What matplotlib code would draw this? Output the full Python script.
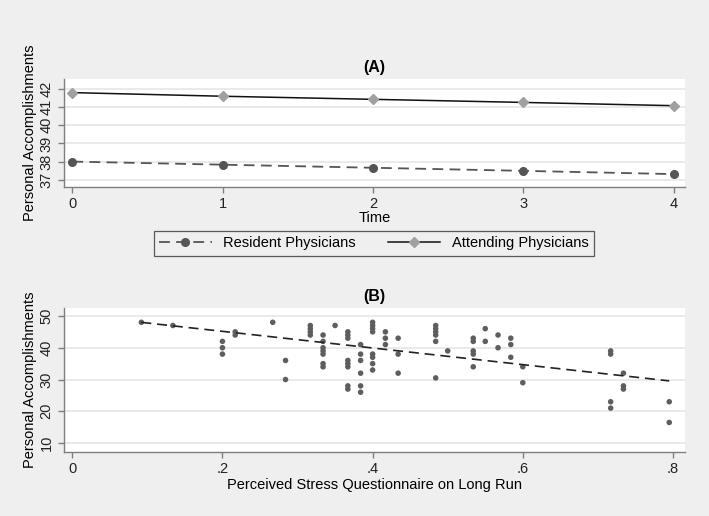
import numpy as np
import matplotlib.pyplot as plt

plt.rcParams['font.family'] = ['Liberation Sans', 'DejaVu Sans']

# => Panel A data (predicted values over time)
time = [0, 1, 2, 3, 4]
resident = [38.00, 37.83, 37.66, 37.49, 37.31]
attending = [41.80, 41.60, 41.43, 41.26, 41.08]

# => Panel B data (scatter)
stress = [0.092, 0.134,
          0.2, 0.2, 0.2,
          0.217, 0.217,
          0.267,
          0.284, 0.284,
          0.317, 0.317, 0.317, 0.317,
          0.334, 0.334, 0.334, 0.334, 0.334, 0.334, 0.334,
          0.350,
          0.367, 0.367, 0.367, 0.367, 0.367, 0.367, 0.367, 0.367,
          0.384, 0.384, 0.384, 0.384, 0.384, 0.384,
          0.4, 0.4, 0.4, 0.4, 0.4, 0.4, 0.4, 0.4,
          0.417, 0.417, 0.417,
          0.434, 0.434, 0.434,
          0.484, 0.484, 0.484, 0.484, 0.484, 0.484,
          0.5,
          0.534, 0.534, 0.534, 0.534, 0.534,
          0.55, 0.55,
          0.567, 0.567,
          0.584, 0.584, 0.584,
          0.6, 0.6,
          0.717, 0.717, 0.717, 0.717,
          0.734, 0.734, 0.734,
          0.795, 0.795]
accomp = [48, 47,
          42, 40, 38,
          45, 44,
          48,
          36, 30,
          47, 46, 45, 44,
          44, 42, 40, 39, 38, 35, 34,
          47,
          45, 44, 43, 36, 35, 34, 28, 27,
          41, 38, 36, 32, 28, 26,
          48, 47, 46, 45, 38, 37, 35, 33,
          45, 43, 41,
          43, 38, 32,
          47, 46, 45, 44, 42, 30.5,
          39,
          43, 42, 39, 38, 34,
          46, 42,
          44, 40,
          43, 41, 37,
          34, 29,
          39, 38, 23, 21,
          32, 28, 27,
          23, 16.5]

# fitted line
fit_intercept = 50.4
fit_slope = -26.2

BG = '#efefef'
AX = '#7f7f7f'
GRID = '#e6e6e6'
W, H = 709, 516


def px_axes(fig, left, top, right, bottom):
    return fig.add_axes([left / W, 1 - bottom / H, (right - left) / W, (bottom - top) / H])


def style(ax):
    ax.set_facecolor('white')
    for s in ['top', 'right']:
        ax.spines[s].set_visible(False)
    for s in ['left', 'bottom']:
        ax.spines[s].set_color(AX)
        ax.spines[s].set_linewidth(1.0)
    ax.tick_params(colors=AX, labelcolor='#222222', labelsize=10.5, length=4, width=1)
    ax.grid(axis='y', color=GRID, linewidth=1.2)
    ax.set_axisbelow(True)
    for lab in ax.get_yticklabels():
        lab.set_rotation(90)
        lab.set_va('center')


def main():
    fig = plt.figure(figsize=(7.09, 5.16), dpi=100)
    fig.patch.set_facecolor(BG)

    # => Panel A
    ax1 = px_axes(fig, 64, 79, 685, 187)
    ax1.plot(time, resident, color='#555555', linestyle=(0, (6, 3.5)), linewidth=1.3,
             marker='o', markersize=5.5, markerfacecolor='#555555', markeredgecolor='#555555',
             label='Resident Physicians')
    ax1.plot(time, attending, color='#111111', linewidth=1.1,
             marker='D', markersize=5.5, markerfacecolor='#a0a0a0', markeredgecolor='#a0a0a0',
             label='Attending Physicians')
    ax1.set_xlim(-0.055, 4.075)
    ax1.set_ylim(36.6, 42.55)
    ax1.set_xticks(time)
    ax1.set_yticks([37, 38, 39, 40, 41, 42])
    style(ax1)
    ax1.set_xlabel('Time', fontsize=10.5, labelpad=0)
    ax1.set_ylabel('Personal Accomplishments', fontsize=10.5, labelpad=2)
    ax1.set_title('(A)', fontsize=11.5, fontweight='bold', pad=5)

    handles, labels = ax1.get_legend_handles_labels()
    leg = fig.legend(handles, labels, loc='center', ncol=2,
                     bbox_to_anchor=(374 / W, 1 - 243.5 / H), fontsize=10.5,
                     frameon=True, fancybox=False, edgecolor='#333333',
                     handlelength=3.6, columnspacing=2.2, borderpad=0.35)
    leg.get_frame().set_facecolor(BG)
    leg.get_frame().set_linewidth(0.9)

    # => Panel B
    ax2 = px_axes(fig, 64, 308, 685, 452)
    ax2.scatter(stress, accomp, s=16, color='#5e5e5e', edgecolors='none', zorder=3)
    xs = np.array([min(stress), max(stress)])
    ax2.plot(xs, fit_intercept + fit_slope * xs, color='#222222',
             linestyle=(0, (6, 3.5)), linewidth=1.2, zorder=4)
    ax2.set_xlim(-0.011, 0.816)
    ax2.set_ylim(7.2, 52.5)
    ax2.set_xticks([0, 0.2, 0.4, 0.6, 0.8])
    ax2.set_xticklabels(['0', '.2', '.4', '.6', '.8'])
    ax2.set_yticks([10, 20, 30, 40, 50])
    style(ax2)
    ax2.set_xlabel('Perceived Stress Questionnaire on Long Run', fontsize=10.5, labelpad=1)
    ax2.set_ylabel('Personal Accomplishments', fontsize=10.5, labelpad=2)
    ax2.set_title('(B)', fontsize=11.5, fontweight='bold', pad=5)

    fig.savefig('out.png', dpi=100, facecolor=BG)


main()
